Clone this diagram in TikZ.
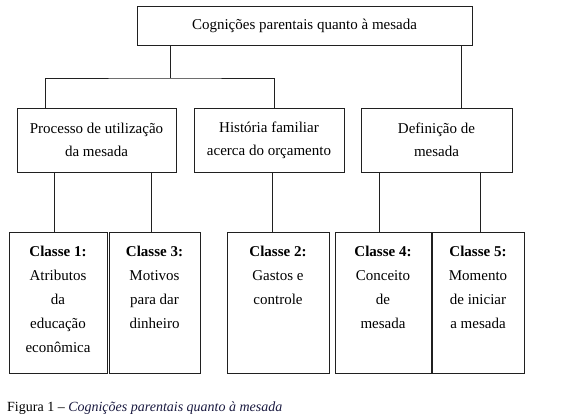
\documentclass[tikz,border=0pt]{standalone}
\usepackage{fontspec}
\setmainfont{Liberation Serif}
\usetikzlibrary{positioning,calc}
\definecolor{boxline}{HTML}{202020}
\definecolor{capnavy}{HTML}{1A1A40}

\begin{document}
\begin{tikzpicture}[x=1pt,y=-1pt,
  box/.style={draw=boxline,line width=0.8pt,inner sep=0pt,align=center,
    font=\fontsize{15}{23}\selectfont},
  classtext/.style={anchor=north,align=center,inner sep=0pt,
    font=\fontsize{15}{24}\selectfont},
  link/.style={draw=boxline,line width=0.8pt}]
  \useasboundingbox (0,0) rectangle (566,420);
  % top
  \node[box,minimum width=335,minimum height=39] (top) at (304.5,25.5) {Cognições parentais quanto à mesada};
  % middle row
  \node[box,minimum width=159,minimum height=64] (proc) at (96.5,140) {Processo de utilização\\da mesada};
  \node[box,minimum width=150,minimum height=64] (hist) at (269,140) {História familiar\\acerca do orçamento};
  \node[box,minimum width=151,minimum height=64] (defn) at (436.5,140) {Definição de\\mesada};
  % classes
  \node[box,minimum width=98,minimum height=141] (c1) at (58,302.5) {};
  \node[box,minimum width=91,minimum height=141] (c3) at (154.5,302.5) {};
  \node[box,minimum width=102,minimum height=141] (c2) at (278,302.5) {};
  \node[box,minimum width=96,minimum height=141] (c4) at (383,302.5) {};
  \node[box,minimum width=92,minimum height=141] (c5) at (478,302.5) {};
  \node[classtext] (t1) at ([yshift=-14pt]c1.north) {\textbf{Classe 1:}\\Atributos\\da\\educação\\econômica};
  \node[classtext] (t3) at ([yshift=-14pt]c3.north) {\textbf{Classe 3:}\\Motivos\\para dar\\dinheiro};
  \node[classtext] (t2) at ([yshift=-14pt]c2.north) {\textbf{Classe 2:}\\Gastos e\\controle};
  \node[classtext] (t4) at ([yshift=-14pt]c4.north) {\textbf{Classe 4:}\\Conceito\\de\\mesada};
  \node[classtext] (t5) at ([yshift=-14pt]c5.north) {\textbf{Classe 5:}\\Momento\\de iniciar\\a mesada};
  % links
  \coordinate (jl) at (170,78);
  \draw[link] (top.south -| jl) -- (jl);
  \draw[link] (proc.north -| 45,0) |- (jl) -| (hist.north -| 274,0);
  \draw[link] (top.south -| 461,0) -- (defn.north -| 461,0);
  \foreach \a/\b/\x in {proc/c1/54,proc/c3/151,hist/c2/272,defn/c4/379,defn/c5/480}
    \draw[link] (\a.south -| \x,0) -- (\b.north -| \x,0);
  % caption
  \node[anchor=west,inner sep=0pt,font=\fontsize{14}{16}\selectfont] (cap) at (7,408)
    {Figura 1 -- \textit{\color{capnavy}Cognições parentais quanto à mesada}};
\end{tikzpicture}
\end{document}
